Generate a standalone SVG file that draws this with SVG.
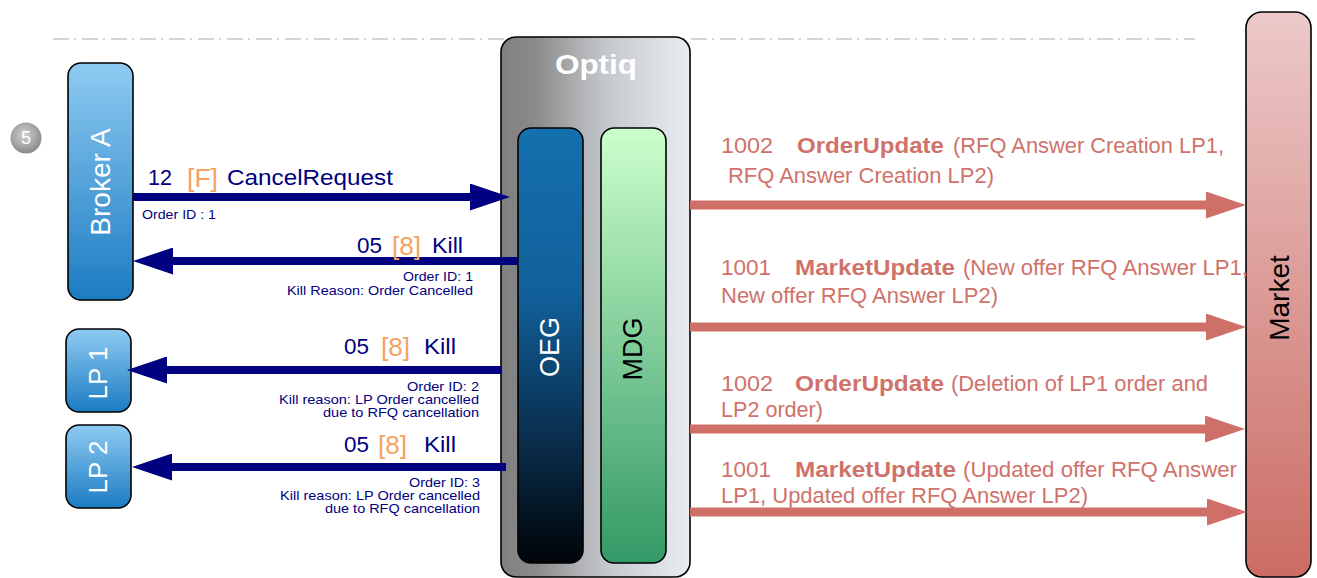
<svg xmlns="http://www.w3.org/2000/svg" width="1317" height="578" viewBox="0 0 1317 578">
<style>
text{font-family:"Liberation Sans",Arial,sans-serif}
.box{stroke:#000;stroke-width:1.6}
.vt{font-size:27px;text-anchor:middle;dominant-baseline:central}
.blue{fill:#000080;font-size:22px}
.org{fill:#f5a262;font-size:26px}
.small{fill:#000080;font-size:13px;text-anchor:end}
.smallS{fill:#000080;font-size:13px}
.red{fill:#cf726a;font-size:21.5px}
.redb{fill:#cf726a;font-size:21.5px;font-weight:bold}
.bl{stroke:#000080;stroke-width:8;fill:none}
.rl{stroke:#cf7068;stroke-width:9;fill:none}
</style>
<defs>
<linearGradient id="gBlue" x1="0" y1="0" x2="0" y2="1">
<stop offset="0" stop-color="#8ecbf2"/><stop offset="1" stop-color="#1c7bc2"/>
</linearGradient>
<linearGradient id="gOptiq" x1="0" y1="0" x2="1" y2="0">
<stop offset="0" stop-color="#7f7f7f"/><stop offset="0.18" stop-color="#8a8a8a"/><stop offset="0.55" stop-color="#c4c7cb"/><stop offset="1" stop-color="#e9edf3"/>
</linearGradient>
<linearGradient id="gOEG" x1="0" y1="0" x2="0" y2="1">
<stop offset="0" stop-color="#1470ae"/><stop offset="0.38" stop-color="#11609a"/><stop offset="0.7" stop-color="#0a3050"/><stop offset="1" stop-color="#000408"/>
</linearGradient>
<linearGradient id="gMDG" x1="0" y1="0" x2="0" y2="1">
<stop offset="0" stop-color="#ccffcc"/><stop offset="1" stop-color="#339966"/>
</linearGradient>
<linearGradient id="gMarket" x1="0" y1="0" x2="0" y2="1">
<stop offset="0" stop-color="#ecc9c9"/><stop offset="1" stop-color="#cb6c64"/>
</linearGradient>
<radialGradient id="gCirc" cx="0.45" cy="0.4" r="0.6">
<stop offset="0" stop-color="#d4d4d4"/><stop offset="1" stop-color="#8a8a8a"/>
</radialGradient>
<marker id="hBlue" markerUnits="userSpaceOnUse" markerWidth="40" markerHeight="27" refX="20" refY="13.5" orient="auto">
<path d="M0,0 L40,13.5 L0,27 z" fill="#000080"/>
</marker>
<marker id="hRed" markerUnits="userSpaceOnUse" markerWidth="40" markerHeight="27" refX="20" refY="13.5" orient="auto">
<path d="M0,0 L40,13.5 L0,27 z" fill="#cf7068"/>
</marker>
</defs>

<line x1="53" y1="39" x2="1195" y2="39" stroke="#c8c8c8" stroke-width="1.5" stroke-dasharray="16 5 2 6"/>

<g id="step5">
<circle cx="26" cy="138" r="15.5" fill="url(#gCirc)"/>
<text x="26" y="138" fill="#fff" font-size="18" text-anchor="middle" dominant-baseline="central">5</text>
</g>

<g id="brokerA">
<rect class="box" x="68" y="63" width="65" height="237" rx="13" fill="url(#gBlue)"/>
<text class="vt" transform="translate(100,182) rotate(-90)" fill="#fff" style="font-size:28px">Broker A</text>
</g>

<g id="lp1">
<rect class="box" x="66" y="329" width="65" height="83" rx="13" fill="url(#gBlue)"/>
<text class="vt" transform="translate(98,373) rotate(-90)" fill="#fff" style="font-size:26px">LP 1</text>
</g>

<g id="lp2">
<rect class="box" x="66" y="425" width="65" height="83" rx="13" fill="url(#gBlue)"/>
<text class="vt" transform="translate(98,467) rotate(-90)" fill="#fff" style="font-size:26px">LP 2</text>
</g>

<g id="optiq">
<rect class="box" x="501" y="37" width="189" height="540" rx="15" fill="url(#gOptiq)"/>
<text x="596" y="74" fill="#fff" font-size="28" font-weight="bold" text-anchor="middle" textLength="82" lengthAdjust="spacingAndGlyphs">Optiq</text>
</g>

<g id="oeg">
<rect class="box" x="518" y="128" width="65" height="435" rx="13" fill="url(#gOEG)"/>
<text class="vt" transform="translate(550,347) rotate(-90)" fill="#fff">OEG</text>
</g>

<g id="mdg">
<rect class="box" x="601" y="128" width="65" height="435" rx="13" fill="url(#gMDG)"/>
<text class="vt" transform="translate(633,349) rotate(-90)" fill="#000">MDG</text>
</g>

<g id="market">
<rect class="box" x="1246" y="12" width="65" height="565" rx="16" fill="url(#gMarket)"/>
<text class="vt" transform="translate(1279,298) rotate(-90)" fill="#000" style="font-size:28px">Market</text>
</g>

<g id="connectors">
<path class="bl" d="M133,197 L490,197" marker-end="url(#hBlue)"/>
<path class="bl" d="M518,261 L153,261" marker-end="url(#hBlue)"/>
<path class="bl" d="M502,370 L147,370" marker-end="url(#hBlue)"/>
<path class="bl" d="M506,467 L152,467" marker-end="url(#hBlue)"/>
<path class="rl" d="M690,205 L1226,205" marker-end="url(#hRed)"/>
<path class="rl" d="M690,327 L1226,327" marker-end="url(#hRed)"/>
<path class="rl" d="M690,429 L1225,429" marker-end="url(#hRed)"/>
<path class="rl" d="M690,512 L1227,512" marker-end="url(#hRed)"/>
</g>

<g id="labels">
<text class="blue" x="148" y="185" textLength="24" lengthAdjust="spacingAndGlyphs">12</text>
<text class="org" x="187" y="187" textLength="31" lengthAdjust="spacingAndGlyphs">[F]</text>
<text class="blue" x="227" y="185" textLength="166" lengthAdjust="spacingAndGlyphs">CancelRequest</text>
<text class="smallS" x="142" y="219" textLength="74" lengthAdjust="spacingAndGlyphs">Order ID : 1</text>

<text class="blue" x="357" y="253" textLength="25" lengthAdjust="spacingAndGlyphs">05</text>
<text class="org" x="392" y="255" textLength="29" lengthAdjust="spacingAndGlyphs">[8]</text>
<text class="blue" x="432" y="253" textLength="31" lengthAdjust="spacingAndGlyphs">Kill</text>
<text class="small" x="473" y="281" textLength="70" lengthAdjust="spacingAndGlyphs">Order ID: 1</text>
<text class="small" x="473" y="295" textLength="186" lengthAdjust="spacingAndGlyphs">Kill Reason: Order Cancelled</text>

<text class="blue" x="344" y="354" textLength="25" lengthAdjust="spacingAndGlyphs">05</text>
<text class="org" x="381" y="356" textLength="29" lengthAdjust="spacingAndGlyphs">[8]</text>
<text class="blue" x="424" y="354" textLength="32" lengthAdjust="spacingAndGlyphs">Kill</text>
<text class="small" x="479" y="391" textLength="72" lengthAdjust="spacingAndGlyphs">Order ID: 2</text>
<text class="small" x="479" y="404" textLength="200" lengthAdjust="spacingAndGlyphs">Kill reason: LP Order cancelled</text>
<text class="small" x="479" y="417" textLength="156" lengthAdjust="spacingAndGlyphs">due to RFQ cancellation</text>

<text class="blue" x="344" y="452" textLength="25" lengthAdjust="spacingAndGlyphs">05</text>
<text class="org" x="378" y="454" textLength="29" lengthAdjust="spacingAndGlyphs">[8]</text>
<text class="blue" x="424" y="452" textLength="32" lengthAdjust="spacingAndGlyphs">Kill</text>
<text class="small" x="480" y="487" textLength="71" lengthAdjust="spacingAndGlyphs">Order ID: 3</text>
<text class="small" x="480" y="500" textLength="200" lengthAdjust="spacingAndGlyphs">Kill reason: LP Order cancelled</text>
<text class="small" x="480" y="513" textLength="155" lengthAdjust="spacingAndGlyphs">due to RFQ cancellation</text>

<text class="red" x="721" y="153" textLength="52" lengthAdjust="spacingAndGlyphs">1002</text>
<text class="redb" x="797" y="153" textLength="147" lengthAdjust="spacingAndGlyphs">OrderUpdate</text>
<text class="red" x="953" y="153" textLength="271" lengthAdjust="spacingAndGlyphs">(RFQ Answer Creation LP1,</text>
<text class="red" x="728" y="183" textLength="266" lengthAdjust="spacingAndGlyphs">RFQ Answer Creation LP2)</text>

<text class="red" x="721" y="275" textLength="50" lengthAdjust="spacingAndGlyphs">1001</text>
<text class="redb" x="795" y="275" textLength="160" lengthAdjust="spacingAndGlyphs">MarketUpdate</text>
<text class="red" x="963" y="275" textLength="285" lengthAdjust="spacingAndGlyphs">(New offer RFQ Answer LP1,</text>
<text class="red" x="721" y="303" textLength="277" lengthAdjust="spacingAndGlyphs">New offer RFQ Answer LP2)</text>

<text class="red" x="721" y="391" textLength="52" lengthAdjust="spacingAndGlyphs">1002</text>
<text class="redb" x="795" y="391" textLength="149" lengthAdjust="spacingAndGlyphs">OrderUpdate</text>
<text class="red" x="951" y="391" textLength="257" lengthAdjust="spacingAndGlyphs">(Deletion of LP1 order and</text>
<text class="red" x="721" y="417" textLength="102" lengthAdjust="spacingAndGlyphs">LP2 order)</text>

<text class="red" x="721" y="477" textLength="50" lengthAdjust="spacingAndGlyphs">1001</text>
<text class="redb" x="795" y="477" textLength="161" lengthAdjust="spacingAndGlyphs">MarketUpdate</text>
<text class="red" x="963" y="477" textLength="274" lengthAdjust="spacingAndGlyphs">(Updated offer RFQ Answer</text>
<text class="red" x="721" y="503" textLength="367" lengthAdjust="spacingAndGlyphs">LP1, Updated offer RFQ Answer LP2)</text>
</g>
</svg>
